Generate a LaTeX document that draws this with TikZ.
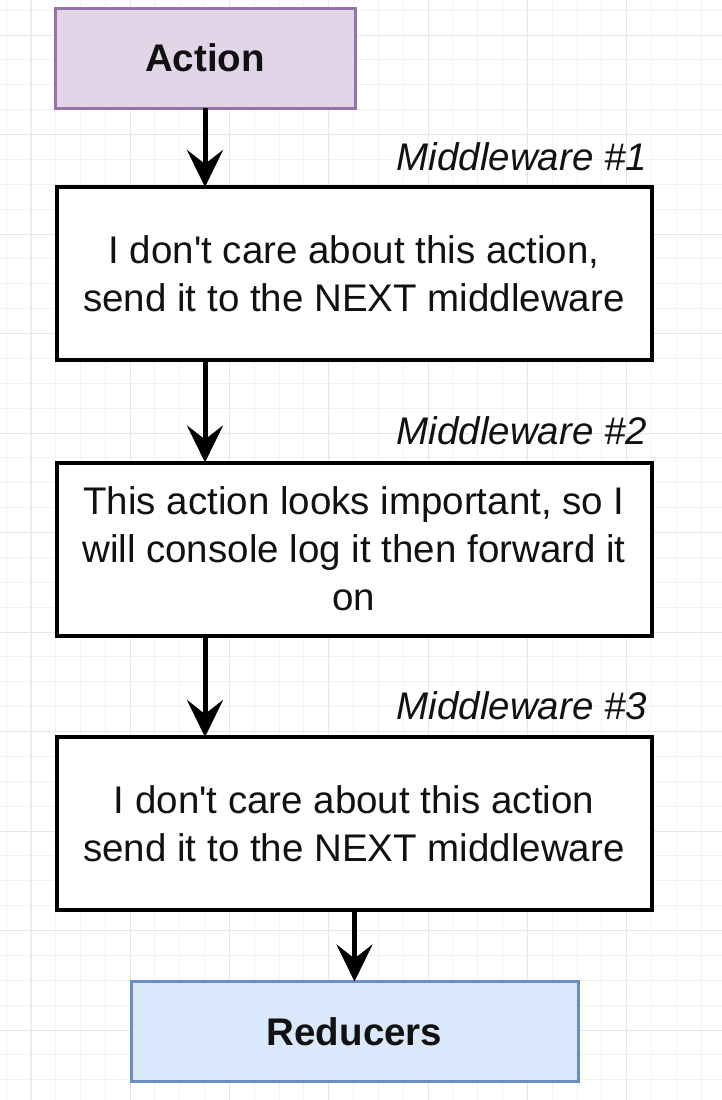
\documentclass[tikz,border=0pt]{standalone}
\usepackage{fontspec}
\setmainfont{Liberation Sans}
\usetikzlibrary{arrows.meta}
\definecolor{gridminor}{HTML}{F2F2F5}
\definecolor{gridmajor}{HTML}{E5E5EA}
\definecolor{actfill}{HTML}{E1D5E7}
\definecolor{actline}{HTML}{9673A6}
\definecolor{redfill}{HTML}{DAE8FC}
\definecolor{redline}{HTML}{6C8EBF}
\definecolor{ink}{HTML}{111111}
\begin{document}
\begin{tikzpicture}[x=1pt, y=-1pt,
  every node/.style={text=ink, inner sep=0pt, outer sep=0pt},
  basefont/.style={font=\fontsize{38.5}{48}\selectfont},
  procbox/.style={basefont, draw=black, line width=4pt, fill=white,
    minimum width=595pt, minimum height=173pt, align=center},
  endbox/.style={basefont, line width=3pt, minimum height=100pt,
    font=\fontsize{38.5}{48}\selectfont\bfseries},
  mwlabel/.style={font=\fontsize{38.5}{48}\selectfont\itshape},
  conn/.style={draw=black, line width=5pt,
    -{Stealth[length=37pt, width=36pt, inset=14pt]}}]

\useasboundingbox (0,0) rectangle (722,1100);
\fill[white] (0,0) rectangle (722,1100);

% background grid
\foreach \i in {0,...,29}
  \draw[gridminor, line width=1pt] ({6+24.83*\i},0) -- ({6+24.83*\i},1100);
\foreach \k in {0,...,44}
  \draw[gridminor, line width=1pt] (0,{10.125+24.875*\k}) -- (722,{10.125+24.875*\k});
\foreach \j in {0,...,6}
  \draw[gridmajor, line width=1pt] ({31+99.33*\j},0) -- ({31+99.33*\j},1100);
\foreach \j in {0,...,10}
  \draw[gridmajor, line width=1pt] (0,{35+99.5*\j}) -- (722,{35+99.5*\j});

% boxes
\node[endbox, draw=actline, fill=actfill, minimum width=300pt] (act) at (205,58) {Action};

\node[procbox] (mw1) at (354,273.5)
  {I don\textquotesingle t care about this action,\\send it to the NEXT middleware};
\node[procbox] (mw2) at (354,549)
  {This action looks important, so I\\will console log it then forward it\\on};
\node[procbox] (mw3) at (354,823.5)
  {I don\textquotesingle t care about this action\\send it to the NEXT middleware};

\node[endbox, draw=redline, fill=redfill, minimum width=447pt] (red) at (354.5,1031.5) {Reducers};

% middleware captions
\node[mwlabel, anchor=base east] (l1) at (647,170) {Middleware \#1};
\node[mwlabel, anchor=base east] (l2) at (647,444) {Middleware \#2};
\node[mwlabel, anchor=base east] (l3) at (647,719) {Middleware \#3};

% connectors
\draw[conn] (act.south) -- (act.south |- mw1.north);
\draw[conn] (act.south |- mw1.south) -- (act.south |- mw2.north);
\draw[conn] (act.south |- mw2.south) -- (act.south |- mw3.north);
\draw[conn] (mw3.south -| red.north) -- (red.north);
\end{tikzpicture}
\end{document}
